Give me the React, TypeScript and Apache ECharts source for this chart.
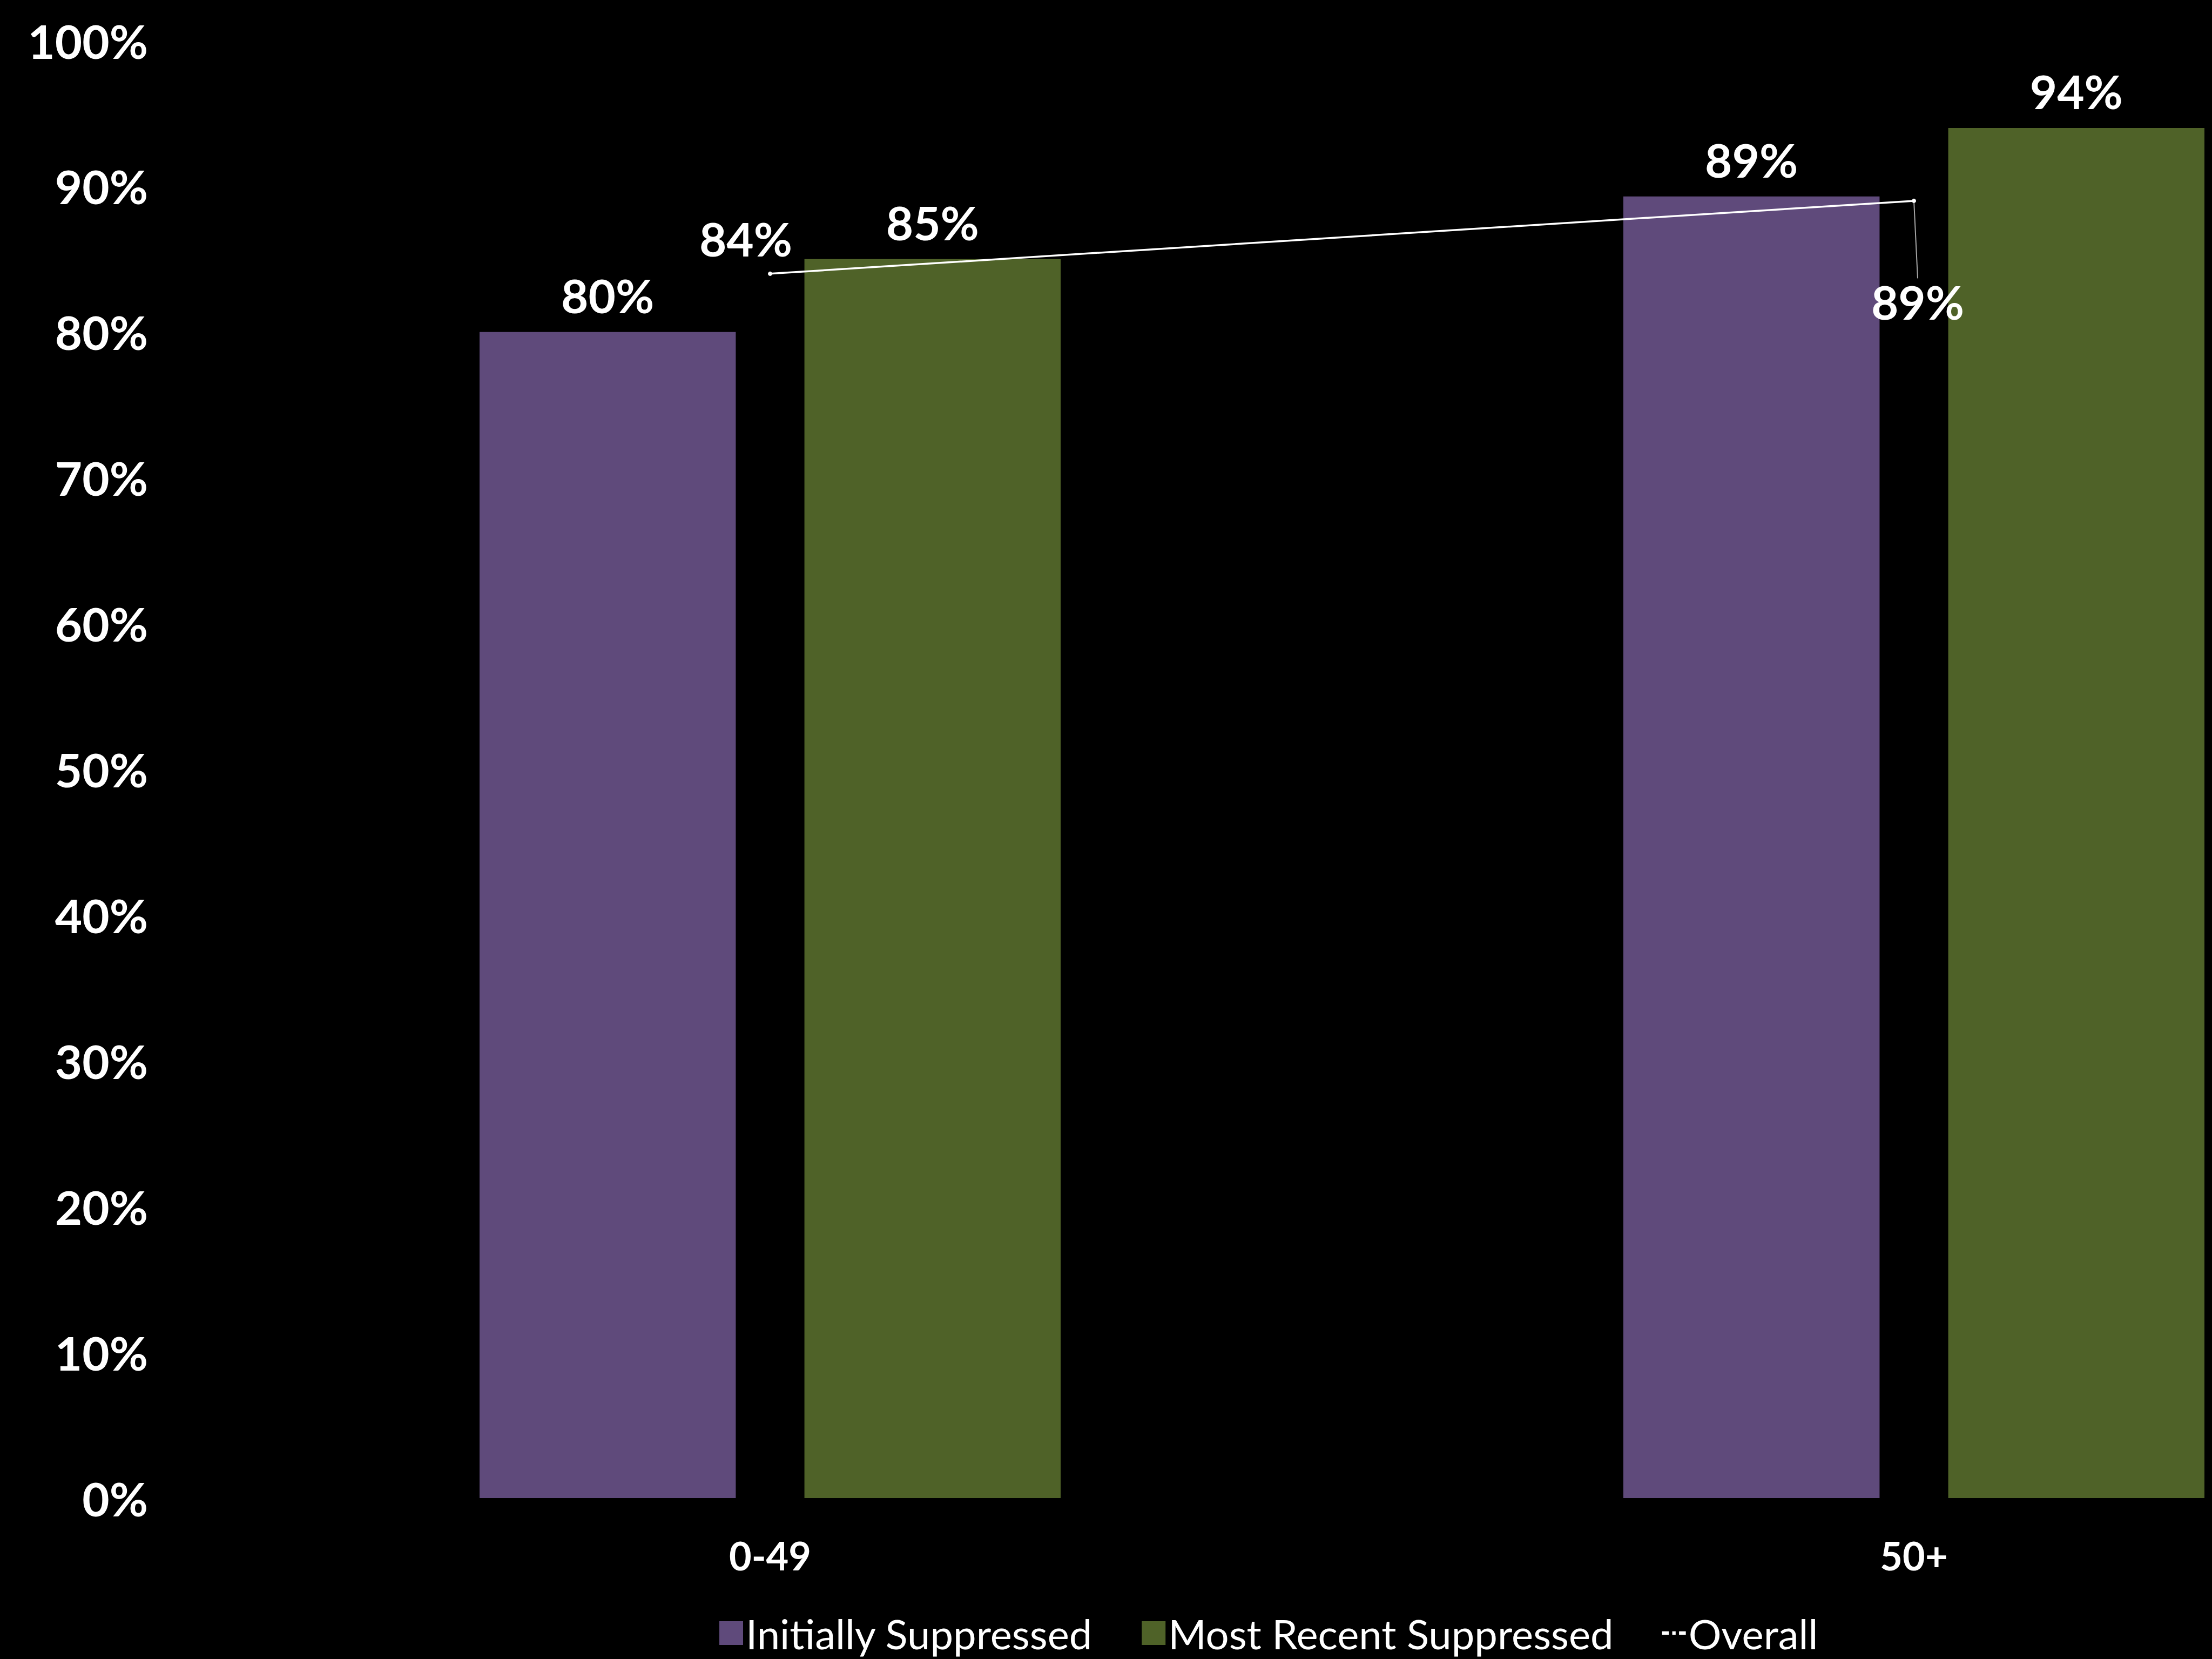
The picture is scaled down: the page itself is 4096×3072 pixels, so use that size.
import React, { useEffect, useRef } from "react";
import * as echarts from "echarts";

const categories = ["0-49", "50+"];
const initiallySuppressed = [80, 89.3];
const mostRecentSuppressed = [85, 94];
const overall = [84, 89];
const yTicks = { min: 0, max: 100, interval: 10 };

const PURPLE = "#5f4a7b";
const GREEN = "#4f6228";
const FONT = "Lato";

export default function App() {
  const ref = useRef<HTMLDivElement>(null);
  useEffect(() => {
    const chart = echarts.init(ref.current!, null, { renderer: "svg" });
    const pct = (p: any) => Math.round(p.value) + "%";
    const barLabel = {
      show: true,
      position: "top",
      distance: 25,
      color: "#fff",
      fontFamily: FONT,
      fontWeight: "bold",
      fontSize: 87,
      formatter: pct,
    };
    chart.setOption({
      animation: false,
      backgroundColor: "#000",
      textStyle: { fontFamily: FONT },
      grid: { left: 367, top: 75, right: 0, bottom: 298, containLabel: false },
      legend: {
        left: 1327,
        top: 2981,
        itemWidth: 44,
        itemHeight: 44,
        itemGap: 90,
        textStyle: { color: "#fff", fontFamily: FONT, fontSize: 76 },
        data: [
          { name: "Initially Suppressed", icon: "rect" },
          { name: "Most Recent Suppressed", icon: "rect" },
          {
            name: "Overall",
            icon: "path://M0,0h4v2h-4zM6,0h2v2h-2zM10,0h4v2h-4z",
            itemStyle: { color: "#fff" },
          },
        ],
      },
      xAxis: {
        type: "category",
        data: categories,
        axisLine: { show: false },
        axisTick: { show: false },
        axisLabel: {
          color: "#fff",
          fontFamily: FONT,
          fontWeight: "bold",
          fontSize: 72,
          margin: 70,
        },
      },
      yAxis: {
        type: "value",
        min: yTicks.min,
        max: yTicks.max,
        interval: yTicks.interval,
        splitLine: { show: false },
        axisLine: { show: false },
        axisTick: { show: false },
        axisLabel: {
          color: "#fff",
          fontFamily: FONT,
          fontWeight: "bold",
          fontSize: 87,
          margin: 93,
          formatter: "{value}%",
        },
      },
      series: [
        {
          name: "Initially Suppressed",
          type: "bar",
          data: initiallySuppressed,
          barWidth: "22.4%",
          barGap: "26.8%",
          itemStyle: { color: PURPLE },
          label: barLabel,
        },
        {
          name: "Most Recent Suppressed",
          type: "bar",
          data: mostRecentSuppressed,
          barWidth: "22.4%",
          barGap: "26.8%",
          itemStyle: { color: GREEN },
          label: barLabel,
        },
        {
          name: "Overall",
          type: "line",
          data: overall.map((v, i) =>
            i === 0 ? { value: v, labelLine: { show: false } } : { value: v }
          ),
          color: "#fff",
          lineStyle: { color: "#fff", width: 3.5 },
          symbol: "circle",
          symbolSize: 8,
          itemStyle: { color: "#fff" },
          z: 5,
          label: {
            show: true,
            position: "inside",
            color: "#fff",
            fontFamily: FONT,
            fontWeight: "bold",
            fontSize: 87,
            formatter: pct,
          },
          labelLine: { show: true, lineStyle: { color: "#a6a6a6", width: 2 } },
          labelLayout: (p: any) =>
            p.dataIndex === 0 ? { dx: -45, dy: -65 } : { dx: 7, dy: 187 },
        },
      ],
    });
    return () => chart.dispose();
  }, []);
  return (
    <div
      style={{
        position: "fixed",
        left: 0,
        top: 0,
        width: 4096,
        height: 3072,
        overflow: "hidden",
        background: "#000",
      }}
    >
      <div ref={ref} style={{ width: 4603, height: 3072 }} />
    </div>
  );
}
